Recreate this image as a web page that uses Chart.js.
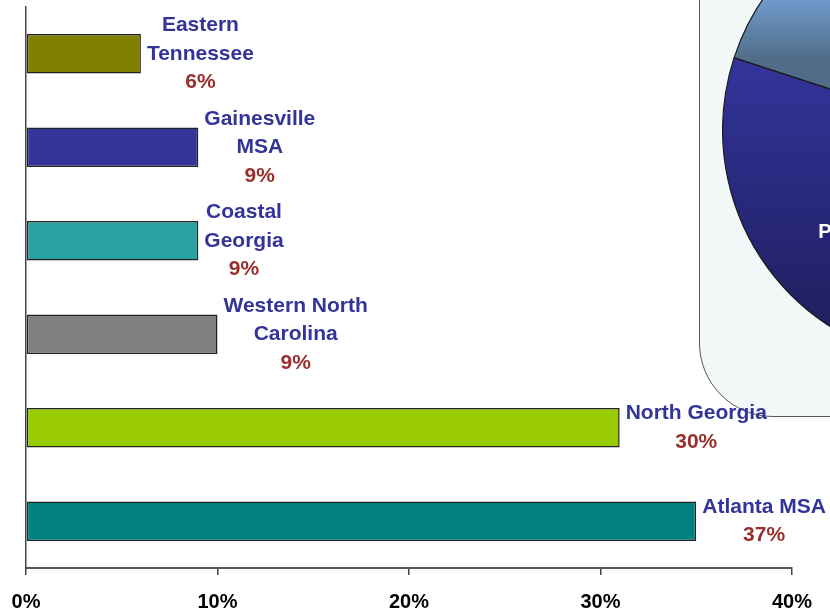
<!DOCTYPE html>
<html>
<head>
<meta charset="utf-8">
<script src="https://cdn.jsdelivr.net/npm/chart.js@4.4.1/dist/chart.umd.min.js"></script>
<style>
  html, body { margin: 0; padding: 0; background: #ffffff; }
  body { width: 830px; height: 614px; overflow: hidden; position: relative; }
  #box { position: absolute; left: 699px; top: -120px; width: 320px; height: 537px;
         box-sizing: border-box; border: 1.5px solid #555; border-radius: 74px;
         background: #F2F7F8; z-index: 0; }
  #pie { position: absolute; left: 722px; top: -104px; z-index: 1; }
  #bars { position: absolute; left: 0; top: 0; z-index: 2; }
</style>
</head>
<body>
<div id="box"></div>
<canvas id="pie" width="468" height="468"></canvas>
<canvas id="bars" width="830" height="614"></canvas>
<script>
// ---- data ----
const categories = [
  ["Eastern", "Tennessee"],
  ["Gainesville", "MSA"],
  ["Coastal", "Georgia"],
  ["Western North", "Carolina"],
  ["North Georgia"],
  ["Atlanta MSA"]
];
const barValues = [6, 9, 9, 10, 31, 35];
const shareLabels = ["6%", "9%", "9%", "9%", "30%", "37%"];
const barColors = ["#808000", "#333399", "#2AA1A1", "#808080", "#99CC00", "#008080"];
const tickValues = [0, 10, 20, 30, 40];

const pieLabels = ["Other markets", "Secondary", "P"];
const pieValues = [20, 25, 55];

Chart.defaults.font.family = "'Liberation Sans', Arial, Helvetica, sans-serif";

// ---- bar labels plugin ----
const barLabelPlugin = {
  id: 'barLabels',
  afterDatasetsDraw(chart) {
    const ctx = chart.ctx;
    const meta = chart.getDatasetMeta(0);
    const lh = 28.5;
    ctx.save();
    ctx.font = "bold 21px 'Liberation Sans', Arial, sans-serif";
    ctx.textAlign = 'center';
    ctx.textBaseline = 'middle';
    meta.data.forEach((bar, i) => {
      const lines = categories[i].concat([shareLabels[i]]);
      let maxW = 0;
      lines.forEach(l => { maxW = Math.max(maxW, ctx.measureText(l).width); });
      const cx = bar.x + 6 + maxW / 2;
      const y0 = bar.y - (lines.length - 1) * lh / 2;
      lines.forEach((l, k) => {
        ctx.fillStyle = (k === lines.length - 1) ? '#9B2D2D' : '#333399';
        ctx.fillText(l, cx, y0 + k * lh);
      });
    });
    ctx.restore();
  }
};

new Chart(document.getElementById('bars'), {
  type: 'bar',
  data: {
    labels: categories,
    datasets: [{
      data: barValues,
      backgroundColor: barColors,
      borderColor: '#222',
      borderWidth: 1.5,
      borderSkipped: false,
      barPercentage: 0.42,
      categoryPercentage: 1.0
    }]
  },
  options: {
    indexAxis: 'y',
    responsive: false,
    animation: false,
    layout: { padding: { left: 26, right: 38, top: 7, bottom: 1 } },
    plugins: { legend: { display: false }, tooltip: { enabled: false } },
    scales: {
      x: {
        min: 0, max: 40,
        afterBuildTicks: s => { s.ticks = tickValues.map(v => ({ value: v })); },
        afterFit: s => { s.height = 45; s.paddingLeft = 0; s.paddingRight = 0; },
        ticks: {
          callback: v => v + '%',
          color: '#000',
          font: { weight: 'bold', size: 20 },
          padding: 15,
          maxRotation: 0
        },
        grid: { drawOnChartArea: false, drawTicks: true, tickLength: 7, color: '#444', lineWidth: 1.5 },
        border: { display: true, color: '#555', width: 2 }
      },
      y: {
        grid: { display: false, drawTicks: false },
        ticks: { display: false },
        border: { display: true, color: '#444', width: 1.5 },
        afterFit: s => { s.width = 0; }
      }
    }
  },
  plugins: [barLabelPlugin]
});

// ---- partial pie in upper-right ----
function pieFill(context) {
  const c = context.chart.ctx;
  const i = context.dataIndex;
  if (i === 0) {
    const g = c.createLinearGradient(0, 95, 0, 165);
    g.addColorStop(0, '#76A0D4');
    g.addColorStop(1, '#4F6C88');
    return g;
  }
  if (i === 1) {
    const g = c.createLinearGradient(0, 100, 0, 300);
    g.addColorStop(0, '#6A8FBF');
    g.addColorStop(1, '#3C5A7A');
    return g;
  }
  const g = c.createLinearGradient(0, 160, 0, 440);
  g.addColorStop(0, '#34349C');
  g.addColorStop(1, '#1E1E5E');
  return g;
}

const pieTextPlugin = {
  id: 'pieText',
  afterDatasetsDraw(chart) {
    const arc = chart.getDatasetMeta(0).data[2];
    if (!arc) return;
    const c = chart.ctx;
    c.save();
    c.font = "bold 20px 'Liberation Sans', Arial, sans-serif";
    c.fillStyle = '#ffffff';
    c.textAlign = 'left';
    c.textBaseline = 'middle';
    c.fillText(pieLabels[2], arc.x - 0.59 * arc.outerRadius, arc.y + 0.44 * arc.outerRadius);
    c.restore();
  }
};

new Chart(document.getElementById('pie'), {
  type: 'pie',
  data: {
    labels: pieLabels,
    datasets: [{
      data: pieValues,
      backgroundColor: pieFill,
      borderColor: '#1a1a1a',
      borderWidth: 1.2
    }]
  },
  options: {
    responsive: false,
    animation: false,
    rotation: -72,
    layout: { padding: 0 },
    plugins: { legend: { display: false }, tooltip: { enabled: false } }
  },
  plugins: [pieTextPlugin]
});
</script>
</body>
</html>
